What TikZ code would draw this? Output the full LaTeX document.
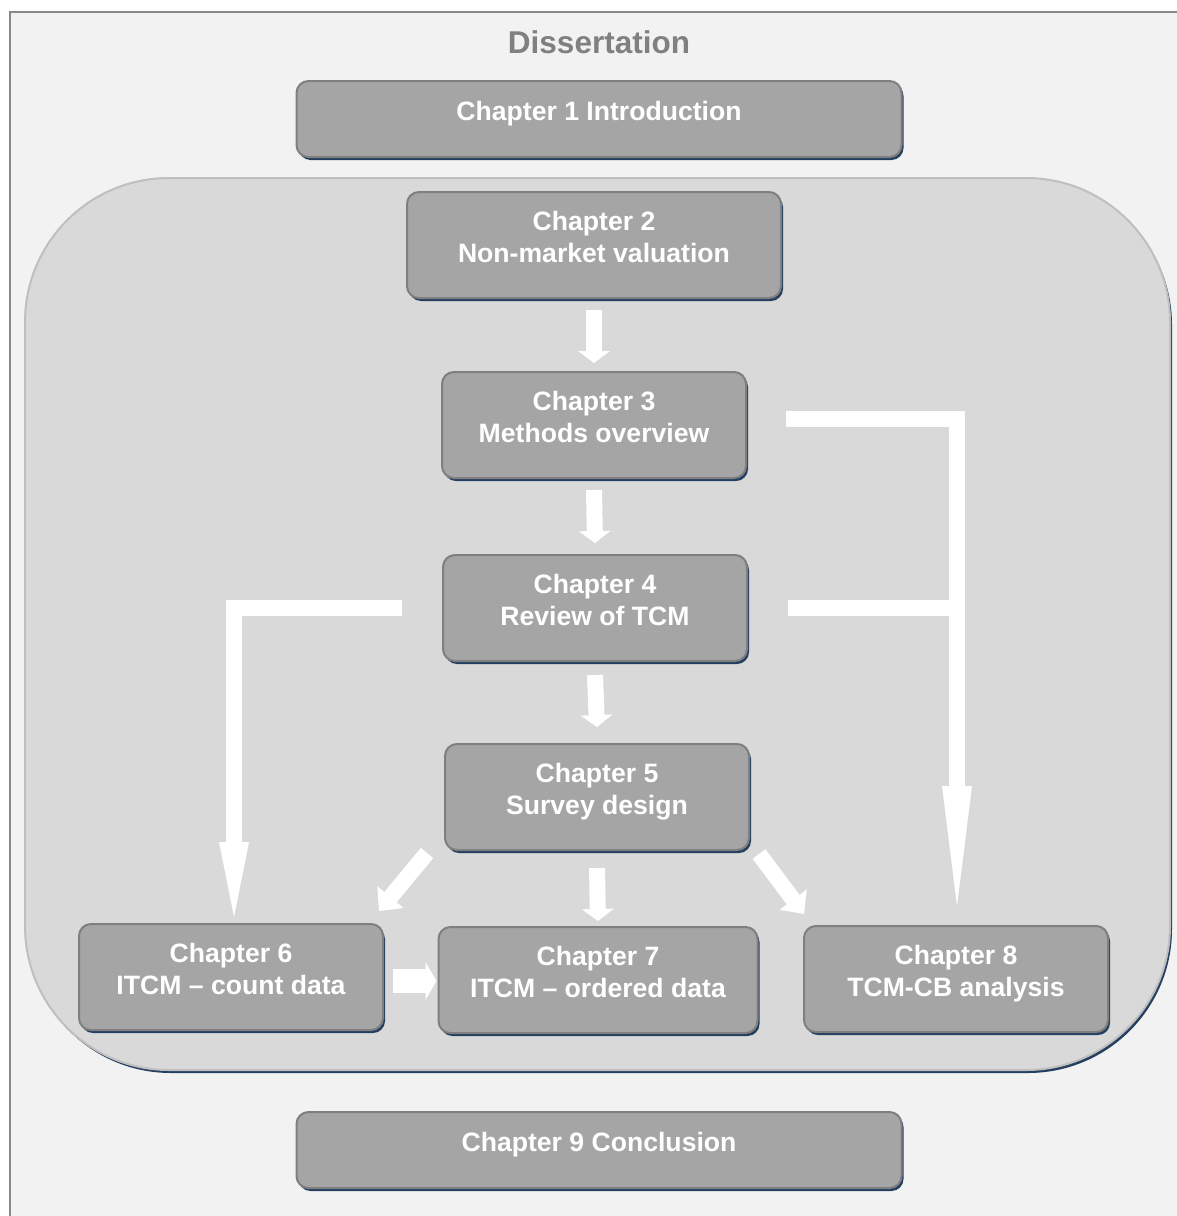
\documentclass[tikz,border=0pt]{standalone}
\usepackage{fontspec}
\setmainfont{Liberation Sans}
\usetikzlibrary{arrows.meta,shadows}

\definecolor{framefill}{HTML}{F2F2F2}
\definecolor{frameedge}{HTML}{898989}
\definecolor{panelfill}{HTML}{D9D9D9}
\definecolor{paneledge}{HTML}{BFBFBF}
\definecolor{boxfill}{HTML}{A5A5A5}
\definecolor{boxedge}{HTML}{7F7F7F}
\definecolor{navyshadow}{HTML}{243F60}
\definecolor{titlegray}{HTML}{808080}

\begin{document}
\begin{tikzpicture}[x=0.5pt, y=-0.5pt,
        main/.style = {draw=boxedge, fill=boxfill, line width=1pt, rounded corners=6pt,
            minimum width=152pt, minimum height=53pt, inner sep=0pt, align=center,
            text=white, font=\bfseries\fontsize{13.3}{16}\selectfont, text depth=8pt,
            general shadow={fill=navyshadow, shadow xshift=1pt, shadow yshift=-1.5pt}},
        wide/.style = {main, minimum width=302.5pt, minimum height=38pt},
        panel/.style = {draw=paneledge, fill=panelfill, line width=1pt, rounded corners=72pt,
            minimum width=572.5pt, minimum height=446pt,
            general shadow={fill=navyshadow, shadow xshift=1pt, shadow yshift=-1.5pt}},
        flow/.style = {draw=white, line width=8pt, -{Triangle[width=16pt, length=6pt, line width=0pt]}},
        slant/.style = {draw=white, line width=8pt, -{Triangle[width=17pt, length=9pt, line width=0pt]}},
        side/.style = {draw=white, line width=12pt, -{Triangle[width=19pt, length=5.5pt, line width=0pt]}},
        link/.style = {draw=white, line width=8pt}]

                \useasboundingbox (0,0) rectangle (1177,1216);
                \draw[draw=frameedge, fill=framefill, line width=0.75pt] (10,12) rectangle (1200,1240);

                \node[text=titlegray, font=\bfseries\fontsize{15.75}{19}\selectfont] (t) at (599,42) {Dissertation};

                \node[panel] (p) at (597.5,624) {};

                \node[wide] (1) at (599,119) {Chapter 1 Introduction};
                \node[main, minimum width=187pt] (2) at (594,245) {Chapter 2\\Non-market valuation};
                \node[main] (3) at (594,425) {Chapter 3\\Methods overview};
                \node[main] (4) at (595,608) {Chapter 4\\Review of TCM};
                \node[main] (5) at (597,797) {Chapter 5\\Survey design};
                \node[main] (6) at (231,977) {Chapter 6\\ITCM – count data};
                \node[main, minimum width=159.5pt] (7) at (598,980) {Chapter 7\\ITCM – ordered data};
                \node[main] (8) at (956,979) {Chapter 8\\TCM-CB analysis};
                \node[wide] (9) at (599,1150) {Chapter 9 Conclusion};

                \draw[flow] ([yshift=-5.5pt]2.south) -- ([yshift=4pt]3.north);
                \draw[flow] ([yshift=-5.5pt]3.south) -- ([yshift=5.5pt]4.north);
                \draw[flow] ([yshift=-6.5pt]4.south) -- ([yshift=8pt]5.north);
                \draw[flow] ([yshift=-8.5pt]5.south) -- ([yshift=2.5pt]7.north);
                \draw[slant] ([xshift=-8.5pt, yshift=-1pt]5.south west) -- ([xshift=-2.5pt, yshift=6pt]6.north east);
                \draw[slant] ([xshift=4.5pt, yshift=-1.5pt]5.south east) -- ([xshift=0.5pt, yshift=5.5pt]8.north west);
                \draw[side] ([xshift=4.5pt, yshift=-2pt]6.east) -- ([xshift=-0.5pt, yshift=-0.5pt]7.west);

                \draw[link, -{Triangle[width=15pt, length=37.5pt, line width=0pt]}] ([xshift=-20pt]4.west) -| ([xshift=1.5pt, yshift=3pt]6.north);
                \draw[link, -{Triangle[width=15pt, length=60pt, line width=0pt]}] ([xshift=19.5pt, yshift=3pt]3.east) -| ([xshift=0.5pt, yshift=9.5pt]8.north);
                \draw[link] ([xshift=20pt]4.east) -- (4.east -| 8.north);
                % \draw[link] (3.east) -- (4.east);

            \end{tikzpicture}
\end{document}
